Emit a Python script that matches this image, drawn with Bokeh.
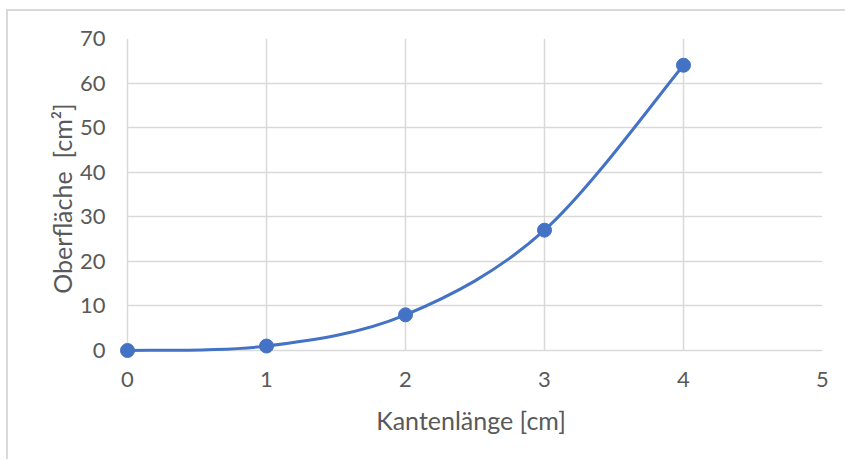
from bokeh.plotting import figure
from bokeh.models import FixedTicker, Range1d
from bokeh.embed import file_html
from bokeh.resources import INLINE

# Edge length [cm] and the plotted values
kantenlaenge = [0, 1, 2, 3, 4]
oberflaeche = [0, 1, 8, 27, 64]
x_ticks = [0, 1, 2, 3, 4, 5]
y_ticks = [0, 10, 20, 30, 40, 50, 60, 70]

LINE = "#4472C4"
GRID = "#d9d9d9"
TEXT = "#595959"
FONT = "Lato"

# a few pixels of room left of / below zero so the first marker is not clipped
PAD = 8
X_PX, Y_PX = 695 / 5, 312 / 70

p = figure(
    width=839, height=450,
    x_range=Range1d(-PAD / X_PX, 5), y_range=Range1d(-PAD / Y_PX, 70),
    output_backend="svg", toolbar_location=None,
    min_border_left=111, min_border_right=25,
    min_border_top=27, min_border_bottom=103,
)
p.styles = {
    "margin-left": "6px", "margin-top": "9px",
    "border-left": f"2px solid {GRID}", "border-top": f"2px solid {GRID}",
}
p.outline_line_color = None

for ax in (p.xaxis, p.yaxis):
    ax.axis_line_color = None
    ax.major_tick_line_color = None
    ax.minor_tick_line_color = None
    ax.major_label_text_font = FONT
    ax.major_label_text_font_size = "22px"
    ax.major_label_text_color = TEXT
    ax.axis_label_text_font = FONT
    ax.axis_label_text_font_size = "25px"
    ax.axis_label_text_font_style = "normal"
    ax.axis_label_text_color = TEXT

p.xaxis.ticker = FixedTicker(ticks=x_ticks)
p.yaxis.ticker = FixedTicker(ticks=y_ticks)
p.xaxis.major_label_standoff = 7
p.yaxis.major_label_standoff = 8
p.xaxis.axis_label = "Kantenlänge [cm]"
p.yaxis.axis_label = "Oberfläche\u00a0 [cm²]"
p.xaxis.axis_label_standoff = 15
p.yaxis.axis_label_standoff = 0

# grid lines start at zero; the ones at zero double as the axis lines
p.xgrid.ticker = FixedTicker(ticks=x_ticks)
p.ygrid.ticker = FixedTicker(ticks=y_ticks)
p.xgrid.cross_bounds = (0, 70)
p.ygrid.cross_bounds = (0, 5)
for g in (p.xgrid, p.ygrid):
    g.grid_line_color = GRID
    g.grid_line_width = 1.5

# Smoothed line: cubic Bezier segments with Catmull-Rom style control points
n = len(kantenlaenge)
x0, y0, x1, y1, cx0, cy0, cx1, cy1 = ([] for _ in range(8))
for i in range(n - 1):
    pa = (kantenlaenge[max(i - 1, 0)], oberflaeche[max(i - 1, 0)])
    pb = (kantenlaenge[i], oberflaeche[i])
    pc = (kantenlaenge[i + 1], oberflaeche[i + 1])
    pd = (kantenlaenge[min(i + 2, n - 1)], oberflaeche[min(i + 2, n - 1)])
    x0.append(pb[0]); y0.append(pb[1])
    x1.append(pc[0]); y1.append(pc[1])
    cx0.append(pb[0] + (pc[0] - pa[0]) / 6); cy0.append(pb[1] + (pc[1] - pa[1]) / 6)
    cx1.append(pc[0] - (pd[0] - pb[0]) / 6); cy1.append(pc[1] - (pd[1] - pb[1]) / 6)

p.bezier(x0=x0, y0=y0, x1=x1, y1=y1, cx0=cx0, cy0=cy0, cx1=cx1, cy1=cy1,
         line_color=LINE, line_width=3)
p.scatter(kantenlaenge, oberflaeche, size=14, fill_color=LINE, line_color=LINE)

open("out.html", "w").write(file_html(p, INLINE))
